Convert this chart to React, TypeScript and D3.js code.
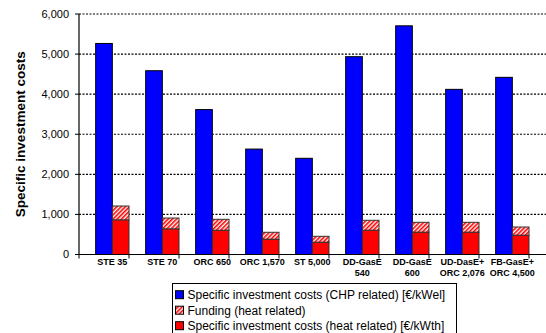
import React from "react";
import * as d3 from "d3";

const categories: string[][] = [
  ["STE 35"],
  ["STE 70"],
  ["ORC 650"],
  ["ORC 1,570"],
  ["ST 5,000"],
  ["DD-GasE", "540"],
  ["DD-GasE", "600"],
  ["UD-DasE+", "ORC 2,076"],
  ["FB-GasE+", "ORC 4,500"],
  [""],
];
const chpCosts = [5265, 4585, 3615, 2630, 2400, 4935, 5705, 4120, 4420, 0];
const heatCosts = [860, 636, 603, 379, 304, 603, 554, 554, 479, 0];
const funding = [350, 274, 275, 175, 150, 250, 249, 249, 207, 0];
const yTicks = [0, 1000, 2000, 3000, 4000, 5000, 6000];
const legendLabels = [
  "Specific investment costs (CHP related) [€/kWel]",
  "Funding (heat related)",
  "Specific investment costs (heat related) [€/kWth]",
];

const W = 546;
const H = 333;
const left = 79;
const top = 14;
const bottom = 254.5;
const bandW = 50;

export default function App() {
  const x = d3
    .scaleBand<number>()
    .domain(d3.range(categories.length))
    .range([left, left + bandW * categories.length])
    .paddingInner(0)
    .paddingOuter(0);
  const y = d3.scaleLinear().domain([0, 6000]).range([bottom, top]);
  const fmt = d3.format(",");
  const bw = x.bandwidth();
  const barW = bw / 3;
  const font = "'Liberation Sans', Arial, sans-serif";
  const n = 9;

  return (
    <div style={{ position: "absolute", left: 0, top: 0 }}>
      <svg width={W} height={H} style={{ display: "block", background: "#fff" }} fontFamily={font}>
        <defs>
          <pattern id="hatch" patternUnits="userSpaceOnUse" width="3" height="3" patternTransform="rotate(45)">
            <rect width="3" height="3" fill="#fff" />
            <rect width="1.6" height="3" fill="#ff0000" />
          </pattern>
        </defs>
        {/* grid */}
        {yTicks.filter((t) => t > 0).map((t) => (
          <line key={t} x1={left} x2={W} y1={y(t)} y2={y(t)} stroke="#000" strokeWidth={1.2} strokeDasharray="2,1.5" />
        ))}
        {/* bars */}
        {d3.range(n).map((i) => {
          const x0 = x(i)!;
          return (
            <g key={i}>
              <rect x={x0 + barW} y={y(chpCosts[i])} width={barW} height={y(0) - y(chpCosts[i])} fill="#0000ff" stroke="#000" strokeWidth={1} />
              <rect x={x0 + 2 * barW} y={y(heatCosts[i] + funding[i])} width={barW} height={y(heatCosts[i]) - y(heatCosts[i] + funding[i])} fill="url(#hatch)" stroke="#333" strokeWidth={1} />
              <rect x={x0 + 2 * barW} y={y(heatCosts[i])} width={barW} height={y(0) - y(heatCosts[i])} fill="#ff0000" stroke="#333" strokeWidth={1} />
            </g>
          );
        })}
        {/* axes */}
        <line x1={left} x2={left} y1={top} y2={bottom} stroke="#000" strokeWidth={1.2} />
        <line x1={left} x2={W} y1={bottom} y2={bottom} stroke="#000" strokeWidth={1.2} />
        {yTicks.map((t) => (
          <g key={t}>
            <line x1={left - 4} x2={left} y1={y(t)} y2={y(t)} stroke="#000" />
            <text x={left - 10} y={y(t)} dy="0.35em" textAnchor="end" fontSize={11} fill="#000">
              {fmt(t)}
            </text>
          </g>
        ))}
        {d3.range(categories.length + 1).map((i) => (
          <line key={i} x1={left + i * bw} x2={left + i * bw} y1={bottom} y2={bottom + 4} stroke="#000" />
        ))}
        {categories.map((lines, i) =>
          lines.map((l, j) => (
            <text key={i + "-" + j} x={x(i)! + 2 * barW} y={264.5 + j * 11} textAnchor="middle" fontSize={9} fontWeight="bold" fill="#000">
              {l}
            </text>
          ))
        )}
        <text transform={`translate(25,${(top + bottom) / 2}) rotate(-90)`} textAnchor="middle" fontSize={13.5} fontWeight="bold" fill="#000">
          Specific investment costs
        </text>
        {/* legend */}
        <rect x={172.5} y={283.5} width={284} height={60} fill="#fff" stroke="#000" strokeWidth={1} />
        {legendLabels.map((l, i) => {
          const cy = 295.2 + i * 15.5;
          const fill = i === 0 ? "#0000ff" : i === 1 ? "url(#hatch)" : "#ff0000";
          return (
            <g key={i}>
              <rect x={175.5} y={cy - 4.5} width={8} height={8} fill={fill} stroke="#000" strokeWidth={1} />
              <text x={187.5} y={cy} dy="0.35em" fontSize={12} fill="#000">
                {l}
              </text>
            </g>
          );
        })}
      </svg>
    </div>
  );
}
